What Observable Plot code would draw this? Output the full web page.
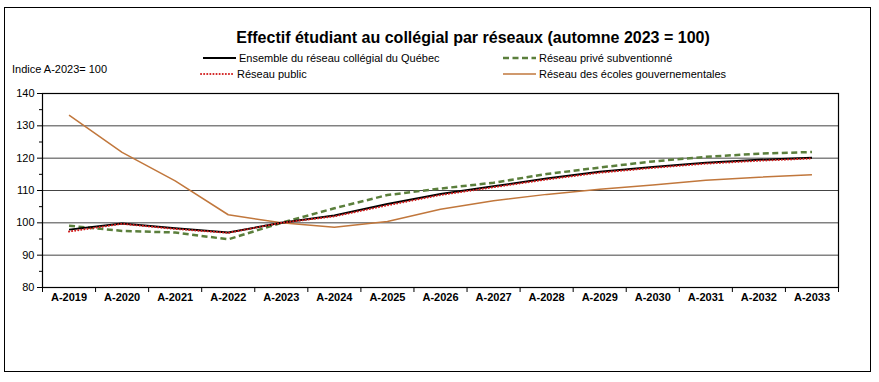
<!DOCTYPE html>
<html>
<head>
<meta charset="utf-8">
<script src="https://cdn.jsdelivr.net/npm/d3@7"></script>
<script src="https://cdn.jsdelivr.net/npm/@observablehq/plot@0.6"></script>
<style>
  body { margin: 0; background: #fff; font-family: "Liberation Sans", Arial, sans-serif; }
  #wrap { position: relative; width: 879px; height: 382px; overflow: hidden; }
  #frame { position: absolute; left: 4px; top: 7px; width: 865px; height: 363px; border: 1.5px solid #000; }
  #title { position: absolute; left: 0; width: 946px; top: 29px; text-align: center; font-weight: bold; font-size: 16px; color: #000; }
  .lg { position: absolute; font-size: 11px; color: #000; white-space: nowrap; display: flex; align-items: center; }
  .lg svg { margin-right: 2px; }
  #ylab { position: absolute; left: 12px; top: 63px; font-size: 11px; }
  #chart { position: absolute; left: 0; top: 0; }
</style>
</head>
<body>
<div id="wrap">
  <div id="frame"></div>
  <div id="chart"></div>
  <div id="title">Effectif étudiant au collégial par réseaux (automne 2023 = 100)</div>
  <div id="ylab">Indice A-2023= 100</div>
  <div id="legend"></div>
</div>
<script>
const years = ["A-2019","A-2020","A-2021","A-2022","A-2023","A-2024","A-2025","A-2026","A-2027","A-2028","A-2029","A-2030","A-2031","A-2032","A-2033"];
const ensemble = [97.9, 99.8, 98.3, 97.0, 100, 102.3, 105.8, 108.9, 111.3, 113.7, 115.8, 117.3, 118.6, 119.5, 120.1];
const publicR  = [97.3, 99.7, 98.1, 96.9, 100, 102.0, 105.4, 108.6, 111.0, 113.4, 115.5, 117.0, 118.3, 119.2, 119.9];
const prive    = [99.1, 97.5, 97.0, 94.9, 100, 104.5, 108.6, 110.6, 112.4, 115.1, 117.1, 119.0, 120.4, 121.4, 121.9];
const gouv     = [133.3, 121.8, 113.0, 102.5, 100.0, 98.6, 100.4, 104.2, 106.8, 108.8, 110.4, 111.7, 113.2, 114.1, 114.9];
const seriesNames = ["Ensemble du réseau collégial du Québec","Réseau public","Réseau privé subventionné","Réseau des écoles gouvernementales"];
const yTicks = [80, 90, 100, 110, 120, 130, 140];
const yMinor = [85, 95, 105, 115, 125, 135];

const styles = {
  "Ensemble du réseau collégial du Québec": {stroke: "#000000", strokeWidth: 2, dash: null, cap: "butt"},
  "Réseau public": {stroke: "#d21f1f", strokeWidth: 2, dash: "0.1,3", cap: "round"},
  "Réseau privé subventionné": {stroke: "#5b7f3c", strokeWidth: 2.5, dash: "6,3.5", cap: "butt"},
  "Réseau des écoles gouvernementales": {stroke: "#c1773c", strokeWidth: 1.5, dash: null, cap: "butt"}
};
const valuesBy = {
  "Ensemble du réseau collégial du Québec": ensemble,
  "Réseau public": publicR,
  "Réseau privé subventionné": prive,
  "Réseau des écoles gouvernementales": gouv
};
const rows = s => years.map((y, i) => ({i, year: y, v: valuesBy[s][i]}));
const lineMark = s => Plot.line(rows(s), {
  x: "i", y: "v", stroke: styles[s].stroke, strokeWidth: styles[s].strokeWidth,
  strokeDasharray: styles[s].dash || undefined, strokeLinecap: styles[s].cap, curve: "linear"
});
const idx = years.map((_, i) => i);
const bounds = d3.range(-0.5, years.length, 1);

const plot = Plot.plot({
  width: 879, height: 382,
  marginTop: 93, marginBottom: 95, marginLeft: 42, marginRight: 41,
  style: {fontFamily: "Liberation Sans, Arial, sans-serif", fontSize: "11px", color: "#000", background: "transparent"},
  x: {type: "linear", domain: [-0.5, years.length - 0.5]},
  y: {domain: [80, 140]},
  marks: [
    Plot.ruleY(yTicks.slice(1, -1), {stroke: "#444", strokeWidth: 1}),
    Plot.frame({stroke: "#000", strokeWidth: 1.2}),
    Plot.axisY({ticks: yTicks, tickSize: 5, tickPadding: 3, stroke: "#000", fontSize: 11, label: null}),
    Plot.axisY({ticks: yMinor, tickSize: 3, tickFormat: () => "", stroke: "#000", label: null}),
    Plot.axisX({ticks: bounds, tickSize: 5, tickFormat: () => "", stroke: "#000", label: null}),
    Plot.axisX({ticks: idx, tickSize: 0, tickPadding: 6, tickFormat: i => years[i], fontWeight: "bold", fontSize: 11, label: null}),
    lineMark("Réseau des écoles gouvernementales"),
    lineMark("Réseau privé subventionné"),
    lineMark("Ensemble du réseau collégial du Québec"),
    lineMark("Réseau public")
  ]
});
document.getElementById("chart").appendChild(plot);

// Legend
const legendPos = [
  {s: seriesNames[0], left: 202, top: 51},
  {s: seriesNames[1], left: 200, top: 67},
  {s: seriesNames[2], left: 502, top: 51},
  {s: seriesNames[3], left: 502, top: 67}
];
const lg = document.getElementById("legend");
legendPos.forEach(p => {
  const st = styles[p.s];
  const d = document.createElement("div");
  d.className = "lg";
  d.style.left = p.left + "px";
  d.style.top = p.top + "px";
  const w = 35;
  d.innerHTML = `<svg width="${w}" height="14"><line x1="1" x2="${w - 1}" y1="7" y2="7" stroke="${st.stroke}" stroke-width="${st.strokeWidth}" stroke-linecap="${st.cap}" ${st.dash ? `stroke-dasharray="${st.dash}"` : ""}/></svg><span>${p.s}</span>`;
  lg.appendChild(d);
});
</script>
</body>
</html>
